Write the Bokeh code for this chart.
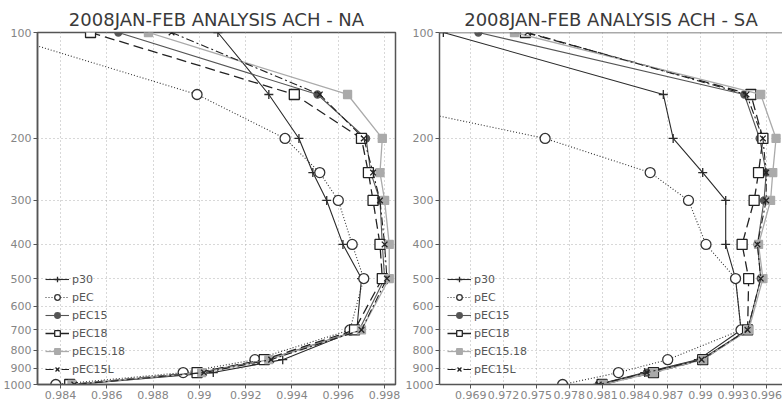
from bokeh.plotting import figure
from bokeh.models import Range1d, FixedTicker, Legend, LegendItem, Span
from bokeh.layouts import row
from bokeh.embed import file_html
from bokeh.resources import INLINE

# pressure levels (hPa)
levels = [100, 150, 200, 250, 300, 400, 500, 700, 850, 925, 1000]
y_ticks = [100, 200, 300, 400, 500, 600, 700, 800, 900, 1000]

series_names = ["p30", "pEC", "pEC15", "pEC18", "pEC15.18", "pEC15L"]

# NA panel
p30_na = [0.9908, 0.9930, 0.9943, 0.9949, 0.9955, 0.9962, 0.9970, 0.9968, 0.9936, 0.9906, 0.9846]
pEC_na = [0.9811, 0.9899, 0.9937, 0.9952, 0.9960, 0.9966, 0.9971, 0.9965, 0.9924, 0.9893, 0.9838]
pEC15_na = [0.9865, 0.9951, 0.9972, 0.9974, 0.9978, 0.9979, 0.9980, 0.9969, 0.9929, 0.9900, 0.9845]
pEC18_na = [0.9853, 0.9941, 0.9970, 0.9973, 0.9975, 0.9978, 0.9979, 0.9967, 0.9928, 0.9899, 0.9844]
pEC1518_na = [0.9878, 0.9964, 0.9979, 0.9978, 0.9980, 0.9982, 0.9982, 0.9970, 0.9930, 0.9901, 0.9845]
pEC15L_na = [0.9888, 0.9952, 0.9971, 0.9975, 0.9978, 0.9980, 0.9981, 0.9970, 0.9931, 0.9902, 0.9846]

# SA panel
p30_sa = [0.9665, 0.9866, 0.9875, 0.9902, 0.9923, 0.9923, 0.9932, 0.9937, 0.9898, 0.9849, 0.9806]
pEC_sa = [0.9440, 0.9568, 0.9758, 0.9854, 0.9889, 0.9905, 0.9932, 0.9937, 0.9870, 0.9825, 0.9774]
pEC15_sa = [0.9697, 0.9940, 0.9954, 0.9960, 0.9958, 0.9952, 0.9955, 0.9943, 0.9900, 0.9851, 0.9807]
pEC18_sa = [0.9740, 0.9946, 0.9957, 0.9953, 0.9949, 0.9938, 0.9944, 0.9943, 0.9902, 0.9857, 0.9810]
pEC1518_sa = [0.9730, 0.9955, 0.9969, 0.9966, 0.9964, 0.9953, 0.9957, 0.9944, 0.9902, 0.9857, 0.9811]
pEC15L_sa = [0.9742, 0.9942, 0.9957, 0.9960, 0.9960, 0.9952, 0.9955, 0.9943, 0.9901, 0.9851, 0.9807]

na_x_ticks = [0.984, 0.986, 0.988, 0.990, 0.992, 0.994, 0.996, 0.998]
na_x_labels = ["0.984", "0.986", "0.988", "0.99", "0.992", "0.994", "0.996", "0.998"]
sa_x_ticks = [0.969, 0.972, 0.975, 0.978, 0.981, 0.984, 0.987, 0.990, 0.993, 0.996]
sa_x_labels = ["0.969", "0.972", "0.975", "0.978", "0.981", "0.984", "0.987", "0.99", "0.993", "0.996"]

styles = {
    "p30": dict(color="#2a2a2a", dash="solid", width=1.1, marker="cross", size=9, fill="#2a2a2a"),
    "pEC": dict(color="#333333", dash="1 2", width=1.1, marker="circle", size=10, fill="white"),
    "pEC15": dict(color="#555555", dash="solid", width=1.1, marker="circle", size=7, fill="#555555"),
    "pEC18": dict(color="#222222", dash="10 5", width=1.3, marker="square", size=10, fill="white"),
    "pEC15.18": dict(color="#aaaaaa", dash="solid", width=1.3, marker="square", size=8, fill="#aaaaaa"),
    "pEC15L": dict(color="#222222", dash="8 3 2 3", width=1.1, marker="x", size=8, fill="#222222"),
}

AX = "#555555"


def make_panel(title, data, x_start, x_end, x_ticks, x_labels, width, bl, br, outline):
    p = figure(width=width, height=405, output_backend="svg", toolbar_location=None,
               y_axis_type="log", x_range=Range1d(x_start, x_end), y_range=Range1d(1000, 100),
               min_border_left=bl, min_border_right=br, min_border_top=32, min_border_bottom=21,
               title=title)
    p.title.text_font = "DejaVu Sans"
    p.title.text_font_size = "18px"
    p.title.text_font_style = "normal"
    p.title.text_color = "#3a3a3a"
    p.title.align = "center"
    p.title.standoff = 6
    p.background_fill_color = "white"
    p.border_fill_color = "white"
    if outline:
        p.outline_line_color = AX
        p.outline_line_width = 1.5
        p.outline_line_alpha = 1
    else:
        p.outline_line_color = None
        p.add_layout(Span(location=p.y_range.end, dimension="width", line_color=AX, line_width=1.5))

    p.xaxis.ticker = FixedTicker(ticks=x_ticks)
    p.xaxis.major_label_overrides = {t: l for t, l in zip(x_ticks, x_labels)}
    p.yaxis.ticker = FixedTicker(ticks=y_ticks)
    p.yaxis.major_label_overrides = {t: str(t) for t in y_ticks}
    for ax in (p.xaxis[0], p.yaxis[0]):
        ax.axis_line_color = AX
        ax.axis_line_width = 1.5
        ax.major_tick_line_color = AX
        ax.major_tick_in = 0
        ax.major_tick_out = 4
        ax.minor_tick_line_color = None
        ax.major_label_text_font = "DejaVu Sans"
        ax.major_label_text_font_size = "11px"
        ax.major_label_text_color = "#858585"
        ax.major_label_standoff = 2
    p.xgrid.ticker = FixedTicker(ticks=x_ticks)
    p.ygrid.ticker = FixedTicker(ticks=y_ticks)
    for g in (p.xgrid[0], p.ygrid[0]):
        g.grid_line_color = "#b0b0b0"
        g.grid_line_dash = "1 3"
        g.grid_line_width = 1

    items = []
    for name, vals in zip(series_names, data):
        st = styles[name]
        ln = p.line(vals, levels, line_color=st["color"], line_dash=st["dash"], line_width=st["width"])
        sc = p.scatter(vals, levels, marker=st["marker"], size=st["size"], line_color=st["color"],
                       fill_color=st["fill"], line_width=1.3)
        items.append(LegendItem(label=name, renderers=[ln, sc]))
    leg = Legend(items=items, location="bottom_left", background_fill_alpha=0, border_line_color=None,
                 label_text_font="DejaVu Sans", label_text_font_size="11px", label_text_color="#555555",
                 glyph_width=24, glyph_height=14, label_height=14, spacing=4, padding=5, margin=8,
                 label_standoff=3)
    p.add_layout(leg)
    return p


p1 = make_panel("2008JAN-FEB ANALYSIS ACH - NA",
                [p30_na, pEC_na, pEC15_na, pEC18_na, pEC1518_na, pEC15L_na],
                0.98301, 0.99847, na_x_ticks, na_x_labels, 402, 36, 7, True)
p2 = make_panel("2008JAN-FEB ANALYSIS ACH - SA",
                [p30_sa, pEC_sa, pEC15_sa, pEC18_sa, pEC1518_sa, pEC15L_sa],
                0.96615, 0.99749, sa_x_ticks, sa_x_labels, 380, 28, 0, False)

layout = row(p1, p2)
open("out.html", "w").write(file_html(layout, INLINE))
